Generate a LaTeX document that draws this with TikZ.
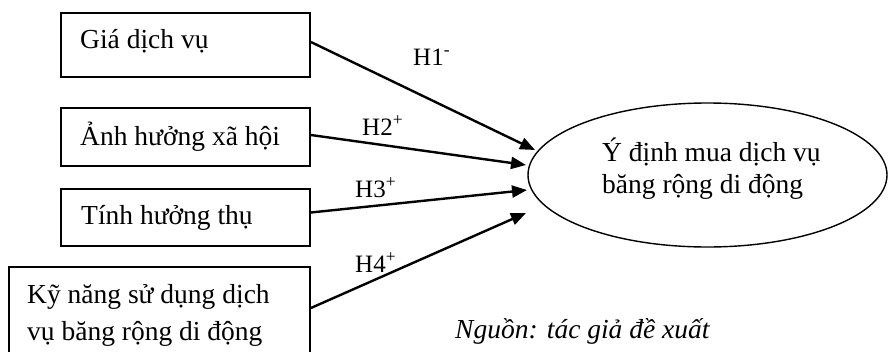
\documentclass[tikz,border=0pt]{standalone}
\usepackage{fontspec}
\setmainfont{Liberation Serif}
\usetikzlibrary{arrows.meta,shapes.geometric}
\begin{document}
\begin{tikzpicture}[x=1pt,y=-1pt,
  box/.style={draw, line width=1.8pt, rectangle, inner sep=0pt},
  lbl/.style={anchor=base west, inner sep=0pt, font=\fontsize{27.5}{37}\selectfont},
  hyp/.style={anchor=base west, inner sep=0pt, font=\fontsize{25}{30}\selectfont},
  arr/.style={line width=2.4pt, -{Triangle[length=15pt,width=12pt]}}]
\useasboundingbox (0,0) rectangle (888,351);
% boxes
\node[box, minimum width=249pt, minimum height=64pt] (b1) at (185.5,45) {};
\node[box, minimum width=249pt, minimum height=58pt] (b2) at (185.5,137) {};
\node[box, minimum width=249pt, minimum height=57pt] (b3) at (185.5,217.5) {};
\node[box, minimum width=301pt, minimum height=90pt] (b4) at (159.5,312) {};
% box texts
\node[lbl] (l1) at (80,48) {Giá dịch vụ};
\node[lbl] (l2) at (80,145) {Ảnh hưởng xã hội};
\node[lbl] (l3) at (81,224) {Tính hưởng thụ};
\node[lbl, align=left] (l4) at (27,340) {Kỹ năng sử dụng dịch\\vụ băng rộng di động};
% ellipse
\node[draw, ellipse, line width=1.4pt, minimum width=359pt, minimum height=144pt, inner sep=0pt] (e) at (707.5,175) {};
\node[lbl, align=left] (et) at (602,193) {Ý định mua dịch vụ\\[-5pt]băng rộng di động};
% arrow tips
\coordinate (t1) at (535,150);
\coordinate (t2) at (526,165);
\coordinate (t3) at (527,190);
\coordinate (t4) at (526,213);
\draw[arr] ([yshift=3pt]b1.east) -- (t1);
\draw[arr] ([yshift=2pt]b2.east) -- (t2);
\draw[arr] ([yshift=5pt]b3.east) -- (t3);
\draw[arr] ([yshift=4pt]b4.east) -- (t4);
% hypothesis labels
\node[hyp] (h1) at (413,65) {H1\textsuperscript{-}};
\node[hyp] (h2) at (362,135) {H2\textsuperscript{+}};
\node[hyp] (h3) at (355,197) {H3\textsuperscript{+}};
\node[hyp] (h4) at (355,272) {H4\textsuperscript{+}};
% source
\node[lbl, font=\fontsize{27.5}{37}\selectfont\itshape] (src) at (455,338) {Nguồn: tác giả đề xuất};
\end{tikzpicture}
\end{document}
